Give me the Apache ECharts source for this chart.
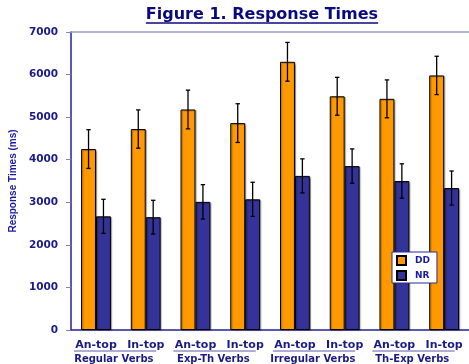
<!DOCTYPE html>
<html>
<head>
<meta charset="utf-8">
<script src="https://cdn.jsdelivr.net/npm/echarts@6/dist/echarts.min.js"></script>
<style>
  html, body { margin: 0; padding: 0; background: #fff; }
  #chart { width: 469px; height: 364px; }
</style>
</head>
<body>
<div id="chart"></div>
<script>
// Conditions (two per verb group) and the verb groups themselves
const conditions = ['An-top', 'In-top', 'An-top', 'In-top', 'An-top', 'In-top', 'An-top', 'In-top'];
const verbGroups = ['Regular Verbs', 'Exp-Th Verbs', 'Irregular Verbs', 'Th-Exp Verbs'];

// Mean response times (ms) and their error margins
const ddMeans = [4250, 4720, 5180, 4860, 6300, 5490, 5430, 5980];
const ddErrors = [455, 450, 455, 455, 455, 445, 445, 450];
const nrMeans = [2670, 2650, 3010, 3070, 3620, 3850, 3500, 3335];
const nrErrors = [400, 397, 404, 400, 400, 404, 404, 400];

// Value axis range
const yMin = 0, yMax = 7000, yStep = 1000;

const NAVY = '#1a1a86';
const FONT = '"DejaVu Sans", Verdana, sans-serif';
const BAR_SHARE = 0.3; // each bar takes 30% of a category band

function errorBarSeries(name, means, errors, side) {
  return {
    name: name + ' error',
    type: 'custom',
    xAxisIndex: 0,
    z: 5,
    silent: true,
    data: means.map((m, i) => [i, m, errors[i]]),
    renderItem(params, api) {
      const idx = api.value(0), v = api.value(1), e = api.value(2);
      const band = api.size([1, 0])[0];
      const cx = api.coord([idx, v])[0] + side * band * BAR_SHARE / 2;
      const top = api.coord([idx, v + e])[1];
      const bot = api.coord([idx, v - e])[1];
      const cap = 2.2;
      const style = { stroke: '#000', lineWidth: 1.3 };
      return {
        type: 'group',
        children: [
          { type: 'line', shape: { x1: cx, y1: top, x2: cx, y2: bot }, style },
          { type: 'line', shape: { x1: cx - cap, y1: top, x2: cx + cap, y2: top }, style },
          { type: 'line', shape: { x1: cx - cap, y1: bot, x2: cx + cap, y2: bot }, style }
        ]
      };
    }
  };
}

const barShadow = { shadowColor: 'rgba(0,0,0,0.3)', shadowOffsetX: 1.2, shadowOffsetY: 0.8, shadowBlur: 1 };

const chart = echarts.init(document.getElementById('chart'), null, { renderer: 'canvas' });

const titleText = 'Figure 1. Response Times';
const titleFont = 'bold 16px ' + FONT;
const titleX = 262;

chart.setOption({
  animation: false,
  backgroundColor: '#fff',
  title: {
    text: titleText,
    left: titleX,
    top: 7,
    padding: 0,
    textAlign: 'center',
    textStyle: { fontFamily: FONT, fontWeight: 'bold', fontSize: 16, color: '#0a0a80' }
  },
  grid: { left: 71, right: -3, top: 32, bottom: 32 },
  legend: {
    orient: 'vertical',
    left: 392,
    top: 252,
    padding: [3, 7, 2, 4],
    itemWidth: 9,
    itemHeight: 9,
    itemGap: 4,
    backgroundColor: '#fff',
    borderColor: '#2a2a9a',
    borderWidth: 1,
    icon: 'rect',
    data: ['DD', 'NR'],
    textStyle: { fontFamily: FONT, fontWeight: 'bold', fontSize: 9, color: '#1a1aa0', padding: [0, 0, 0, 4] }
  },
  xAxis: [
    {
      type: 'category',
      data: conditions,
      position: 'bottom',
      axisLine: { lineStyle: { color: '#22229a', width: 1.5 } },
      axisTick: { show: false },
      axisLabel: {
        interval: 0, margin: 10,
        fontFamily: FONT, fontWeight: 'bold', fontSize: 11, color: NAVY
      }
    },
    {
      type: 'category',
      data: verbGroups,
      position: 'bottom',
      axisLine: { show: false },
      axisTick: { show: false },
      axisLabel: {
        interval: 0, margin: 24,
        padding: [0, 14, 0, 0],
        fontFamily: FONT, fontWeight: 'bold', fontSize: 10, color: NAVY
      }
    },
    {
      type: 'category',
      data: conditions,
      position: 'top',
      axisLine: { lineStyle: { color: '#9a9acc', width: 1.5 } },
      axisTick: { show: false },
      axisLabel: { show: false }
    }
  ],
  yAxis: {
    type: 'value',
    min: yMin, max: yMax, interval: yStep,
    name: 'Response Times (ms)',
    nameLocation: 'middle',
    nameGap: 45,
    nameTextStyle: { fontFamily: '"Liberation Sans", Arial, sans-serif', fontWeight: 'bold', fontSize: 10, color: '#1a1aa0' },
    axisLine: { show: true, lineStyle: { color: '#22229a', width: 1.5 } },
    axisTick: { show: true, length: 5, lineStyle: { color: '#8080c0' } },
    splitLine: { show: false },
    axisLabel: {
      margin: 13, fontFamily: FONT, fontWeight: 'bold', fontSize: 10.5, color: NAVY,
      formatter: (v) => String(v)
    }
  },
  series: [
    {
      name: 'DD', type: 'bar', xAxisIndex: 0, data: ddMeans,
      barWidth: (BAR_SHARE * 100) + '%', barGap: '0%',
      itemStyle: Object.assign({ color: '#ff9900', borderColor: '#000', borderWidth: 1 }, barShadow)
    },
    {
      name: 'NR', type: 'bar', xAxisIndex: 0, data: nrMeans,
      barWidth: (BAR_SHARE * 100) + '%', barGap: '0%',
      itemStyle: Object.assign({ color: '#333399', borderColor: '#000', borderWidth: 1 }, barShadow)
    },
    errorBarSeries('DD', ddMeans, ddErrors, -1),
    errorBarSeries('NR', nrMeans, nrErrors, 1)
  ]
});

// Underlines: one under the title, one under each pair of condition labels
const ctx = document.createElement('canvas').getContext('2d');
ctx.font = titleFont;
const titleW = ctx.measureText(titleText).width;
const lines = [
  { type: 'line', shape: { x1: titleX - titleW / 2, y1: 23, x2: titleX + titleW / 2, y2: 23 },
    style: { stroke: '#0a0a80', lineWidth: 1.5 } }
];
for (let g = 0; g < verbGroups.length; g++) {
  const left = chart.convertToPixel({ xAxisIndex: 0 }, 2 * g);
  const right = chart.convertToPixel({ xAxisIndex: 0 }, 2 * g + 1);
  lines.push({ type: 'line', shape: { x1: left - 22, y1: 351, x2: right + 10.5, y2: 351 },
    style: { stroke: '#5a5aaa', lineWidth: 1 } });
}
chart.setOption({ graphic: lines });
</script>
</body>
</html>
